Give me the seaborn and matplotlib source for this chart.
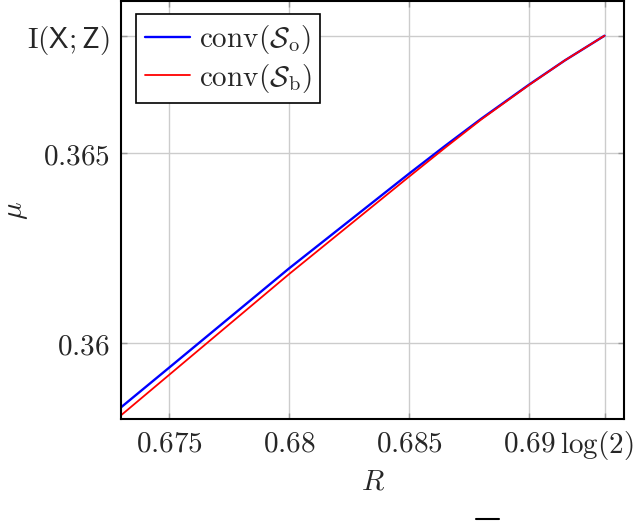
import numpy as np
import pandas as pd
import matplotlib
matplotlib.use("Agg")
import matplotlib.pyplot as plt
import matplotlib.transforms as mtransforms
from matplotlib.lines import Line2D
import seaborn as sns

# values
log2 = np.log(2)
i_xz = 0.368087

rate_o = [0.673, 0.675, 0.680, 0.685, 0.6865, 0.688, 0.690, 0.6915, log2]
mu_o = [0.35832, 0.35936, 0.36197, 0.36446, 0.36519, 0.36590, 0.36680, 0.36744, i_xz]

rate_b = [0.673, 0.675, 0.680, 0.685, 0.6865, 0.688, 0.690, 0.6915, log2]
mu_b = [0.35811, 0.35917, 0.36182, 0.36438, 0.36514, 0.36588, 0.36679, 0.36744, i_xz]

xticks = [0.675, 0.68, 0.685, 0.69, log2]
xtick_labels = [r"$0.675$", r"$0.68$", r"$0.685$", r"$0.69$", r"$\log(2)$"]
yticks = [0.36, 0.365, i_xz]
ytick_labels = [r"$0.36$", r"$0.365$", r"$\mathrm{I}(\mathsf{X};\mathsf{Z})$"]

df_o = pd.DataFrame({"R": rate_o, "mu": mu_o})
df_b = pd.DataFrame({"R": rate_b, "mu": mu_b})

sns.set_style("white")
plt.rcParams["mathtext.fontset"] = "cm"
plt.rcParams["font.family"] = ["DejaVu Serif"]

fs = 21
fig = plt.figure(figsize=(6.4, 5.21), dpi=100)
ax = fig.add_axes([121 / 640, 1 - 419.3 / 521, (624 - 121) / 640, (419.3 - 1) / 521])

sns.lineplot(data=df_o, x="R", y="mu", ax=ax, color="#0000ff", lw=1.7,
             sort=False, estimator=None, label=r"$\mathrm{conv}(\mathcal{S}_{\mathrm{o}})$")
sns.lineplot(data=df_b, x="R", y="mu", ax=ax, color="#ff0000", lw=1.3,
             sort=False, estimator=None, label=r"$\mathrm{conv}(\mathcal{S}_{\mathrm{b}})$")

ax.set_xlim(0.67299, 0.69396)
ax.set_ylim(0.358, 0.369)
ax.set_xticks(xticks)
ax.set_xticklabels(xtick_labels, fontsize=fs)
ax.set_yticks(yticks)
ax.set_yticklabels(ytick_labels, fontsize=fs)
ax.grid(True, color="#cccccc", lw=1.0)
ax.set_axisbelow(True)
ax.tick_params(direction="in", length=4, width=1, color="#999999",
               top=True, right=True, bottom=True, left=True)
ax.tick_params(axis="x", pad=7)
ax.tick_params(axis="y", pad=8)
for s in ax.spines.values():
    s.set_color("black")
    s.set_linewidth(1.5)

# shift log(2) label a bit left so it stays inside the figure
lab = ax.get_xticklabels()[-1]
lab.set_transform(lab.get_transform() + mtransforms.ScaledTranslation(-8 / 100, 0, fig.dpi_scale_trans))

ax.set_xlabel(r"$R$", fontsize=fs, labelpad=4)
ax.set_ylabel(r"$\mu$", fontsize=fs, labelpad=-2)

leg = ax.legend(loc="upper left", bbox_to_anchor=(0.030, 0.969), borderaxespad=0,
                fontsize=fs, handlelength=1.55, handletextpad=0.3, labelspacing=0.2,
                borderpad=0.3, fancybox=False, framealpha=1, edgecolor="black")
leg.get_frame().set_linewidth(1.2)

# small stroke at the bottom edge of the reference
fig.add_artist(Line2D([476 / 640, 499 / 640], [0.004, 0.004], color="black", lw=1.5,
                      transform=fig.transFigure))

fig.savefig("out.png", dpi=100)
